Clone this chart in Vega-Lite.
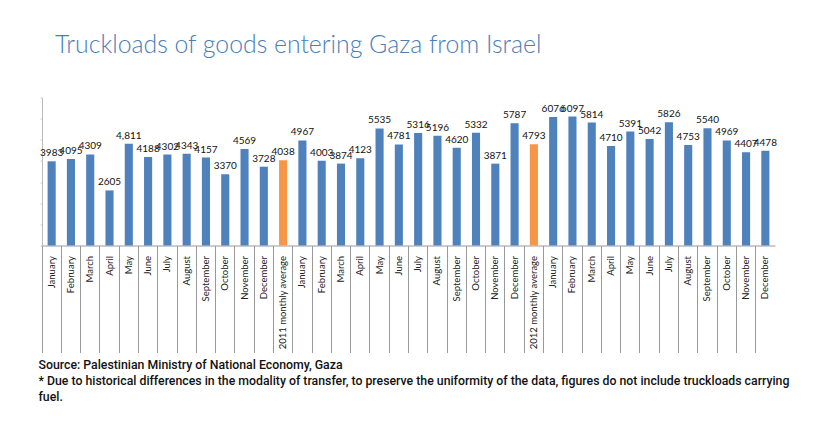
{
  "$schema": "https://vega.github.io/schema/vega-lite/v6.json",
  "width": 733,
  "height": 148,
  "autosize": {"type": "none"},
  "padding": {"left": 42, "top": 97.5, "right": 61, "bottom": 176.5},
  "background": "white",
  "title": {
    "text": "Truckloads of goods entering Gaza from Israel",
    "anchor": "start",
    "frame": "group",
    "dx": 13,
    "offset": 39,
    "font": "Lato",
    "fontSize": 24.8,
    "fontWeight": 300,
    "color": "#4A7DBA"
  },
  "config": {"view": {"stroke": null}},
  "data": {
    "values": [
      {"key": "January|2011", "value": 3983, "label": "3983", "type": "month"},
      {"key": "February|2011", "value": 4095, "label": "4095", "type": "month"},
      {"key": "March|2011", "value": 4309, "label": "4309", "type": "month"},
      {"key": "April|2011", "value": 2605, "label": "2605", "type": "month"},
      {"key": "May|2011", "value": 4811, "label": "4,811", "type": "month"},
      {"key": "June|2011", "value": 4188, "label": "4188", "type": "month"},
      {"key": "July|2011", "value": 4302, "label": "4302", "type": "month"},
      {"key": "August|2011", "value": 4343, "label": "4343", "type": "month"},
      {"key": "September|2011", "value": 4157, "label": "4157", "type": "month"},
      {"key": "October|2011", "value": 3370, "label": "3370", "type": "month"},
      {"key": "November|2011", "value": 4569, "label": "4569", "type": "month"},
      {"key": "December|2011", "value": 3728, "label": "3728", "type": "month"},
      {"key": "2011 monthly average|a", "value": 4038, "label": "4038", "type": "average"},
      {"key": "January|2012", "value": 4967, "label": "4967", "type": "month"},
      {"key": "February|2012", "value": 4003, "label": "4003", "type": "month"},
      {"key": "March|2012", "value": 3874, "label": "3874", "type": "month"},
      {"key": "April|2012", "value": 4123, "label": "4123", "type": "month"},
      {"key": "May|2012", "value": 5535, "label": "5535", "type": "month"},
      {"key": "June|2012", "value": 4781, "label": "4781", "type": "month"},
      {"key": "July|2012", "value": 5316, "label": "5316", "type": "month"},
      {"key": "August|2012", "value": 5196, "label": "5196", "type": "month"},
      {"key": "September|2012", "value": 4620, "label": "4620", "type": "month"},
      {"key": "October|2012", "value": 5332, "label": "5332", "type": "month"},
      {"key": "November|2012", "value": 3871, "label": "3871", "type": "month"},
      {"key": "December|2012", "value": 5787, "label": "5787", "type": "month"},
      {"key": "2012 monthly average|b", "value": 4793, "label": "4793", "type": "average"},
      {"key": "January|2013", "value": 6076, "label": "6076", "type": "month"},
      {"key": "February|2013", "value": 6097, "label": "6097", "type": "month"},
      {"key": "March|2013", "value": 5814, "label": "5814", "type": "month"},
      {"key": "April|2013", "value": 4710, "label": "4710", "type": "month"},
      {"key": "May|2013", "value": 5391, "label": "5391", "type": "month"},
      {"key": "June|2013", "value": 5042, "label": "5042", "type": "month"},
      {"key": "July|2013", "value": 5826, "label": "5826", "type": "month"},
      {"key": "August|2013", "value": 4753, "label": "4753", "type": "month"},
      {"key": "September|2013", "value": 5540, "label": "5540", "type": "month"},
      {"key": "October|2013", "value": 4969, "label": "4969", "type": "month"},
      {"key": "November|2013", "value": 4407, "label": "4407", "type": "month"},
      {"key": "December|2013", "value": 4478, "label": "4478", "type": "month"}
    ]
  },
  "encoding": {
    "x": {
      "field": "key",
      "type": "nominal",
      "sort": null,
      "scale": {"paddingInner": 0, "paddingOuter": 0},
      "axis": {
        "title": [
          "Source: Palestinian Ministry of National Economy, Gaza",
          "* Due to historical differences in the modality of transfer, to preserve the uniformity of the data, figures do not include truckloads carrying",
          "fuel."
        ],
        "titleAnchor": "start",
        "titleAlign": "left",
        "titleBaseline": "top",
        "titleX": -4,
        "titleY": 113,
        "titleFont": "Roboto",
        "titleFontSize": 12.3,
        "titleFontWeight": 500,
        "titleColor": "#111111",
        "titleLineHeight": 16,
        "labelExpr": "split(datum.value, '|')[0]",
        "labelAngle": -90,
        "labelFont": "Lato",
        "labelFontSize": 9.5,
        "labelColor": "#222222",
        "labelPadding": -97,
        "bandPosition": 0,
        "tickSize": 107,
        "tickColor": "#999999",
        "tickWidth": 1,
        "domainColor": "#999999",
        "labelOverlap": false
      }
    },
    "y": {
      "field": "value",
      "type": "quantitative",
      "scale": {"domain": [0, 7000]},
      "axis": {
        "title": null,
        "labels": false,
        "grid": false,
        "ticks": true,
        "tickSize": 2,
        "tickCount": 7,
        "tickColor": "#cccccc",
        "domainColor": "#bbbbbb"
      }
    }
  },
  "layer": [
    {
      "mark": {"type": "bar", "width": {"band": 0.42}},
      "encoding": {
        "color": {
          "field": "type",
          "type": "nominal",
          "scale": {"domain": ["month", "average"], "range": ["#4F81BD", "#F79646"]},
          "legend": null
        }
      }
    },
    {
      "mark": {"type": "text", "baseline": "bottom", "dy": -3, "font": "Lato", "fontSize": 10, "color": "#111111"},
      "encoding": {"text": {"field": "label"}}
    }
  ]
}
